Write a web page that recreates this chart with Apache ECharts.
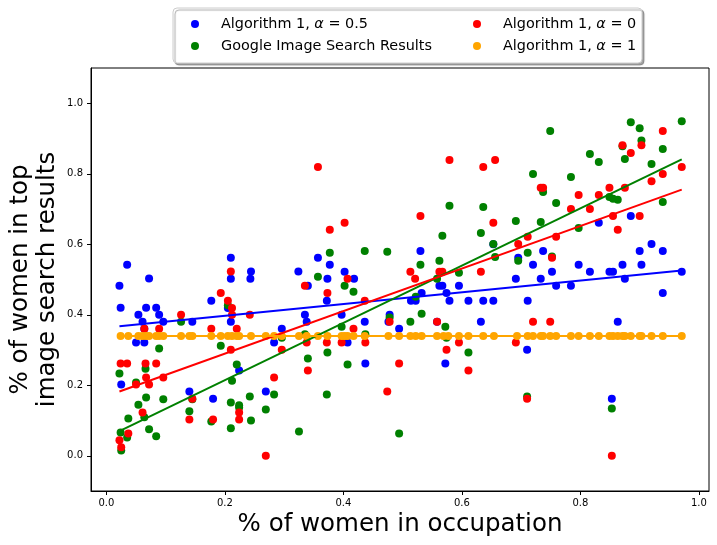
<!DOCTYPE html>
<html>
<head>
<meta charset="utf-8">
<script src="https://cdn.jsdelivr.net/npm/echarts@6/dist/echarts.min.js"></script>
<style>
html,body{margin:0;padding:0;background:#fff}
#chart{width:717px;height:545px}
</style>
</head>
<body>
<div id="chart"></div>
<script>
// tick labels
var xTicks = [0, 0.2, 0.4, 0.6, 0.8, 1.0];
var yTicks = [0, 0.2, 0.4, 0.6, 0.8, 1.0];

// [% women in occupation, % women in results]
var blueData = [
	[0.035,0.542],[0.072,0.503],[0.21,0.562],[0.21,0.502],[0.244,0.523],[0.243,0.502],[0.324,0.523],
	[0.530,0.581],[0.357,0.562],[0.377,0.542],[0.402,0.522],[0.373,0.502],[0.418,0.502],[0.653,0.60],
	[0.885,0.680],[0.831,0.661],[0.920,0.601],[0.737,0.581],[0.900,0.581],[0.939,0.581],[0.695,0.562],
	[0.720,0.542],[0.797,0.542],[0.871,0.542],[0.903,0.542],[0.752,0.522],[0.816,0.522],[0.849,0.522],
	[0.855,0.522],[0.971,0.522],[0.691,0.502],[0.733,0.502],[0.875,0.502],
	[0.022,0.482],[0.177,0.44],[0.205,0.419],[0.21,0.38],[0.024,0.42],[0.054,0.40],[0.067,0.42],
	[0.084,0.42],[0.089,0.40],[0.061,0.38],[0.096,0.38],[0.145,0.38],[0.064,0.36],[0.296,0.36],
	[0.050,0.321],[0.064,0.321],[0.283,0.321],[0.224,0.242],[0.025,0.202],[0.140,0.182],[0.269,0.182],
	[0.180,0.162],
	[0.34,0.482],[0.372,0.44],[0.514,0.44],[0.522,0.44],[0.532,0.462],[0.562,0.482],[0.567,0.482],
	[0.574,0.462],[0.579,0.44],[0.595,0.482],[0.611,0.44],[0.636,0.44],[0.653,0.44],[0.335,0.40],
	[0.338,0.38],[0.397,0.40],[0.436,0.38],[0.478,0.40],[0.476,0.38],[0.494,0.36],[0.558,0.38],
	[0.632,0.38],[0.407,0.321],[0.437,0.262],[0.572,0.262],
	[0.759,0.482],[0.784,0.482],[0.939,0.462],[0.711,0.44],[0.863,0.38],[0.710,0.301],[0.853,0.162]
];
var greenData = [
	[0.579,0.709],[0.636,0.706],[0.567,0.624],[0.632,0.632],[0.653,0.601],[0.656,0.564],[0.377,0.576],
	[0.436,0.581],[0.474,0.579],[0.562,0.553],[0.530,0.542],[0.595,0.519],[0.357,0.508],[0.558,0.502],
	[0.749,0.921],[0.885,0.946],[0.900,0.929],[0.971,0.949],[0.903,0.894],[0.871,0.878],[0.875,0.842],
	[0.939,0.870],[0.816,0.856],[0.831,0.833],[0.920,0.828],[0.720,0.799],[0.784,0.791],[0.737,0.748],
	[0.759,0.717],[0.849,0.734],[0.855,0.729],[0.863,0.726],[0.939,0.720],[0.691,0.666],[0.733,0.663],
	[0.797,0.646],[0.711,0.576],[0.695,0.553],[0.752,0.565],
	[0.205,0.427],[0.126,0.38],[0.089,0.304],[0.193,0.312],[0.296,0.335],[0.066,0.247],[0.022,0.233],
	[0.220,0.259],[0.050,0.208],[0.212,0.213],[0.283,0.174],[0.067,0.165],[0.145,0.160],[0.096,0.160],
	[0.242,0.168],[0.054,0.145],[0.21,0.151],[0.224,0.143],[0.224,0.137],[0.037,0.106],[0.064,0.109],
	[0.140,0.126],[0.269,0.131],[0.177,0.097],[0.244,0.10],[0.072,0.075],[0.21,0.078],[0.024,0.066],
	[0.035,0.052],[0.084,0.055],[0.025,0.015],[0.325,0.069],
	[0.402,0.482],[0.417,0.465],[0.522,0.451],[0.478,0.392],[0.397,0.366],[0.513,0.38],[0.532,0.403],
	[0.572,0.366],[0.335,0.345],[0.437,0.345],[0.574,0.335],[0.340,0.276],[0.373,0.293],[0.407,0.259],
	[0.611,0.293],[0.372,0.174],[0.494,0.063],
	[0.710,0.168],[0.853,0.134]
];
var redData = [
	[0.21,0.523],
	[0.357,0.819],[0.579,0.839],[0.636,0.819],[0.656,0.839],[0.530,0.680],[0.653,0.661],[0.402,0.661],
	[0.377,0.641],[0.513,0.522],[0.562,0.522],[0.567,0.522],[0.632,0.522],[0.407,0.502],[0.521,0.502],
	[0.939,0.921],[0.903,0.881],[0.871,0.881],[0.885,0.859],[0.971,0.819],[0.939,0.799],[0.920,0.779],
	[0.733,0.760],[0.737,0.760],[0.797,0.740],[0.831,0.740],[0.849,0.760],[0.875,0.760],[0.784,0.700],
	[0.816,0.700],[0.855,0.680],[0.900,0.680],[0.863,0.641],[0.711,0.621],[0.759,0.621],[0.695,0.601],
	[0.752,0.562],
	[0.193,0.462],[0.205,0.44],[0.212,0.419],[0.212,0.40],[0.126,0.40],[0.242,0.40],[0.064,0.36],
	[0.089,0.36],[0.177,0.36],[0.220,0.36],[0.21,0.301],[0.296,0.301],[0.024,0.262],[0.035,0.262],
	[0.066,0.262],[0.084,0.262],[0.067,0.222],[0.096,0.222],[0.283,0.222],[0.050,0.202],[0.072,0.202],
	[0.145,0.162],[0.224,0.123],[0.061,0.123],[0.140,0.103],[0.180,0.103],[0.224,0.103],[0.037,0.063],
	[0.022,0.044],[0.025,0.024],[0.269,0.0],
	[0.335,0.482],[0.373,0.462],[0.436,0.44],[0.417,0.36],[0.478,0.38],[0.558,0.38],[0.338,0.321],
	[0.372,0.321],[0.397,0.321],[0.437,0.321],[0.574,0.301],[0.595,0.321],[0.340,0.242],[0.494,0.262],
	[0.611,0.242],[0.474,0.182],
	[0.720,0.38],[0.749,0.38],[0.691,0.321],[0.710,0.162],[0.853,0.0]
];
var orangeData = [
	[0.024,0.34],[0.037,0.34],[0.054,0.34],[0.061,0.34],[0.067,0.34],[0.072,0.34],[0.084,0.34],
	[0.089,0.34],[0.096,0.34],[0.126,0.34],[0.140,0.34],[0.145,0.34],[0.177,0.34],[0.193,0.34],
	[0.205,0.34],[0.212,0.34],[0.220,0.34],[0.224,0.34],[0.244,0.34],[0.269,0.34],[0.283,0.34],
	[0.296,0.34],[0.325,0.34],
	[0.338,0.34],[0.357,0.34],[0.373,0.34],[0.397,0.34],[0.402,0.34],[0.407,0.34],[0.417,0.34],
	[0.436,0.34],[0.476,0.34],[0.494,0.34],[0.513,0.34],[0.522,0.34],[0.532,0.34],[0.558,0.34],
	[0.569,0.34],[0.577,0.34],[0.595,0.34],[0.611,0.34],[0.636,0.34],[0.654,0.34],
	[0.693,0.34],[0.711,0.34],[0.720,0.34],[0.733,0.34],[0.737,0.34],[0.749,0.34],[0.759,0.34],
	[0.784,0.34],[0.797,0.34],[0.816,0.34],[0.831,0.34],[0.849,0.34],[0.855,0.34],[0.863,0.34],
	[0.871,0.34],[0.875,0.34],[0.885,0.34],[0.900,0.34],[0.903,0.34],[0.920,0.34],[0.939,0.34],
	[0.971,0.34]
];

var names = ['Algorithm 1, α = 0.5', 'Google Image Search Results', 'Algorithm 1, α = 0', 'Algorithm 1, α = 1'];
var colors = ['#0000ff', '#008000', '#ff0000', '#ffa500'];
var datasets = [blueData, greenData, redData, orangeData];

//最小二乘拟合直线
function fitLine(data){
	var n = data.length, sx = 0, sy = 0, sxx = 0, sxy = 0;
	var xmin = Infinity, xmax = -Infinity;
	for(var i = 0;i<n;i++){
		var x = data[i][0], y = data[i][1];
		sx += x; sy += y; sxx += x*x; sxy += x*y;
		if(x < xmin) xmin = x;
		if(x > xmax) xmax = x;
	}
	var b = (n*sxy - sx*sy)/(n*sxx - sx*sx);
	var a = (sy - b*sx)/n;
	return [[xmin, a + b*xmin], [xmax, a + b*xmax]];
}

var series = [];
for(var i = 0;i<datasets.length;i++){
	series.push({
		name: names[i],
		type: 'scatter',
		symbolSize: 8,
		itemStyle: {color: colors[i], opacity: 1},
		emphasis: {disabled: true},
		data: datasets[i]
	});
	series.push({
		name: 'fit' + i,
		type: 'line',
		symbol: 'none',
		silent: true,
		lineStyle: {color: colors[i], width: 2},
		data: fitLine(datasets[i])
	});
}

var legendText = {
	fontFamily: 'DejaVu Sans',
	fontSize: 14.4,
	color: '#000',
	lineHeight: 17,
	padding: [0, 0, 0, 17],
	rich: {i: {fontFamily: 'DejaVu Sans', fontSize: 14.4, fontStyle: 'italic', color: '#000'}}
};
function legendFmt(name){
	return name.replace('α', '{i|α}');
}

var option = {
	animation: false,
	grid: {left: 91, right: 8, top: 68, bottom: 54, show: true, borderColor: '#000', borderWidth: 1,
		outerBoundsMode: 'none', containLabel: false},
	graphic: [{
		type: 'rect',
		shape: {x: 173, y: 8, width: 469, height: 55, r: 4},
		style: {fill: '#fff', stroke: '#cccccc', lineWidth: 1,
			shadowColor: 'rgba(0,0,0,0.35)', shadowOffsetX: 2, shadowOffsetY: 2, shadowBlur: 1},
		z: 1
	}],
	legend: [{
		data: [names[0], names[1]],
		orient: 'vertical',
		left: 186, top: 10.5,
		itemWidth: 8, itemHeight: 8, itemGap: 5,
		icon: 'circle',
		formatter: legendFmt,
		textStyle: legendText,
		selectedMode: false
	}, {
		data: [names[2], names[3]],
		orient: 'vertical',
		left: 468, top: 10.5,
		itemWidth: 8, itemHeight: 8, itemGap: 5,
		icon: 'circle',
		formatter: legendFmt,
		textStyle: legendText,
		selectedMode: false
	}],
	xAxis: {
		type: 'value',
		min: -0.026, max: 1.017,
		name: '% of women in occupation',
		nameLocation: 'middle',
		nameGap: 21,
		nameMoveOverlap: false,
		nameTextStyle: {fontFamily: 'DejaVu Sans', fontSize: 24.5, color: '#000'},
		splitLine: {show: false},
		axisLine: {show: true, onZero: false, lineStyle: {color: '#000'}},
		axisTick: {show: true, length: 4, lineStyle: {color: '#000'}, customValues: xTicks},
		axisLabel: {
			margin: 7, color: '#000', fontFamily: 'DejaVu Sans', fontSize: 10,
			customValues: xTicks,
			formatter: function(v){ return v.toFixed(1); }
		}
	},
	yAxis: {
		type: 'value',
		min: -0.1, max: 1.1,
		name: '% of women in top\nimage search results',
		nameLocation: 'middle',
		nameGap: 30,
		nameMoveOverlap: false,
		nameTextStyle: {fontFamily: 'DejaVu Sans', fontSize: 24.5, color: '#000', lineHeight: 27},
		splitLine: {show: false},
		axisLine: {show: true, onZero: false, lineStyle: {color: '#000'}},
		axisTick: {show: true, length: 4, lineStyle: {color: '#000'}, customValues: yTicks},
		axisLabel: {
			margin: 8, color: '#000', fontFamily: 'DejaVu Sans', fontSize: 10,
			customValues: yTicks,
			formatter: function(v){ return v.toFixed(1); }
		}
	},
	series: series
};

var myChart = echarts.init(document.getElementById('chart'));
myChart.setOption(option);
</script>
</body>
</html>
